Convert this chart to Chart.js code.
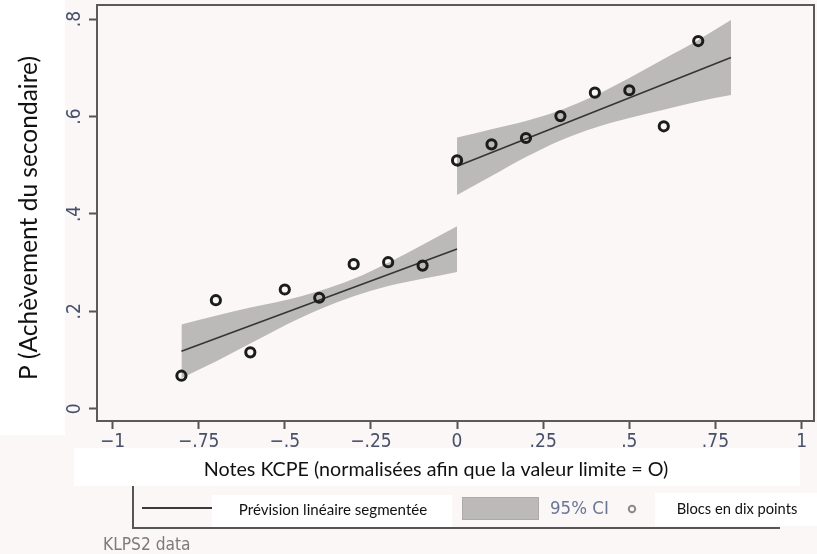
<!DOCTYPE html>
<html>
<head>
<meta charset="utf-8">
<script src="https://cdn.jsdelivr.net/npm/chart.js@4.4.1/dist/chart.umd.min.js"></script>
<style>
  html, body { margin: 0; padding: 0; background: #faf7f6; }
  canvas { display: block; }
</style>
</head>
<body>
<canvas id="c" width="817" height="554"></canvas>
<script>
// Ten-point bins of normalised KCPE scores and the share completing secondary school
const binX = [-0.8, -0.7, -0.6, -0.5, -0.4, -0.3, -0.2, -0.1, 0, 0.1, 0.2, 0.3, 0.4, 0.5, 0.6, 0.7];
const binY = [0.068, 0.223, 0.116, 0.245, 0.228, 0.297, 0.301, 0.294, 0.510, 0.543, 0.556, 0.601, 0.649, 0.654, 0.580, 0.755];

// Segmented linear prediction, below and above the cut-off
const fitLeftX = [-0.8, 0];
const fitLeftY = [0.118, 0.328];
const fitRightX = [0, 0.795];
const fitRightY = [0.498, 0.721];

// 95% confidence band around each segment
const bandLeftX = [-0.8, -0.7, -0.6, -0.5, -0.4, -0.3, -0.2, -0.1, 0];
const bandLeftUpper = [0.173, 0.191, 0.208, 0.223, 0.242, 0.267, 0.300, 0.337, 0.375];
const bandLeftLower = [0.063, 0.097, 0.134, 0.171, 0.204, 0.231, 0.252, 0.267, 0.281];
const bandRightX = [0, 0.1, 0.2, 0.3, 0.4, 0.5, 0.6, 0.7, 0.795];
const bandRightUpper = [0.557, 0.574, 0.591, 0.613, 0.643, 0.679, 0.718, 0.757, 0.798];
const bandRightLower = [0.439, 0.478, 0.517, 0.551, 0.577, 0.597, 0.614, 0.631, 0.644];

// Axis ticks
const xTickValues = [-1, -0.75, -0.5, -0.25, 0, 0.25, 0.5, 0.75, 1];
const xTickLabels = ['\u22121', '\u2212.75', '\u2212.5', '\u2212.25', '0', '.25', '.5', '.75', '1'];
const yTickValues = [0, 0.2, 0.4, 0.6, 0.8];
const yTickLabels = ['0', '.2', '.4', '.6', '.8'];

// Texts
const yTitle = 'P (Achèvement du secondaire)';
const xTitle = 'Notes KCPE (normalisées afin que la valeur limite = O)';
const legendLine = 'Prévision linéaire segmentée';
const legendBand = '95% CI';
const legendPoints = 'Blocs en dix points';
const sourceNote = 'KLPS2 data';

const BG = '#faf7f6';
const BAND = 'rgb(188,185,185)';
const NARROW = "'Liberation Sans Narrow', 'Arial Narrow', 'DejaVu Sans Condensed', sans-serif";
const SANS = "Lato, 'Open Sans', sans-serif";
const TICK_COLOR = '#46506a';

const pts = (xs, ys) => xs.map((x, i) => ({ x: x, y: ys[i] }));

const background = {
  id: 'background',
  beforeDraw(chart) {
    const ctx = chart.ctx;
    ctx.save();
    ctx.fillStyle = BG;
    ctx.fillRect(0, 0, chart.width, chart.height);
    ctx.restore();
  }
};

const frame = {
  id: 'frame',
  afterDatasetsDraw(chart) {
    const a = chart.chartArea;
    const ctx = chart.ctx;
    ctx.save();
    ctx.strokeStyle = '#5a5a5a';
    ctx.lineWidth = 2;
    ctx.strokeRect(a.left, a.top, a.right - a.left, a.bottom - a.top);
    ctx.restore();
  }
};

const annotations = {
  id: 'annotations',
  afterDraw(chart) {
    const ctx = chart.ctx;
    ctx.save();

    // y-axis title panel
    ctx.fillStyle = '#ffffff';
    ctx.fillRect(0, 0, 65, 435);
    ctx.save();
    ctx.translate(29, 218);
    ctx.rotate(-Math.PI / 2);
    ctx.fillStyle = '#111111';
    ctx.font = '24.5px ' + SANS;
    ctx.textAlign = 'center';
    ctx.textBaseline = 'middle';
    ctx.fillText(yTitle, 0, 0);
    ctx.restore();

    // x-axis title panel
    ctx.fillStyle = '#ffffff';
    ctx.fillRect(74, 448, 726, 38);
    ctx.fillStyle = '#111111';
    ctx.font = '19.7px ' + SANS;
    ctx.textAlign = 'center';
    ctx.textBaseline = 'middle';
    ctx.fillText(xTitle, 436, 470);

    // legend frame
    ctx.strokeStyle = '#555555';
    ctx.lineWidth = 2;
    ctx.beginPath();
    ctx.moveTo(133, 486);
    ctx.lineTo(133, 528);
    ctx.lineTo(780, 528);
    ctx.stroke();

    // line key
    ctx.strokeStyle = '#3a3a3a';
    ctx.lineWidth = 2;
    ctx.beginPath();
    ctx.moveTo(142, 508);
    ctx.lineTo(212, 508);
    ctx.stroke();

    ctx.fillStyle = '#ffffff';
    ctx.fillRect(212, 495, 240, 32);
    ctx.fillStyle = '#111111';
    ctx.font = '15.1px ' + SANS;
    ctx.textAlign = 'center';
    ctx.textBaseline = 'middle';
    ctx.fillText(legendLine, 333, 510);

    // band key
    ctx.fillStyle = BAND;
    ctx.fillRect(462, 497, 77, 23);
    ctx.strokeStyle = '#adaaaa';
    ctx.lineWidth = 1;
    ctx.strokeRect(462.5, 497.5, 76, 22);
    ctx.fillStyle = '#6a7694';
    ctx.font = '18.5px ' + NARROW;
    ctx.textAlign = 'left';
    ctx.fillText(legendBand, 550, 509);

    // points key
    ctx.strokeStyle = '#8a8a8a';
    ctx.lineWidth = 2;
    ctx.beginPath();
    ctx.arc(632, 509, 3.2, 0, Math.PI * 2);
    ctx.stroke();

    ctx.fillStyle = '#ffffff';
    ctx.fillRect(655, 493, 162, 33);
    ctx.fillStyle = '#111111';
    ctx.font = '14.7px ' + SANS;
    ctx.textAlign = 'center';
    ctx.fillText(legendPoints, 737, 509);

    // source note
    ctx.fillStyle = '#7f7a7a';
    ctx.font = '17.2px ' + NARROW;
    ctx.textAlign = 'left';
    ctx.fillText(sourceNote, 103, 546);

    ctx.restore();
  }
};

const bandStyle = {
  borderWidth: 0,
  pointRadius: 0,
  backgroundColor: BAND,
  cubicInterpolationMode: 'monotone'
};
const fitStyle = {
  borderColor: '#353535',
  borderWidth: 1.6,
  pointRadius: 0,
  fill: false
};

new Chart(document.getElementById('c'), {
  type: 'line',
  data: {
    datasets: [
      Object.assign({ data: pts(bandLeftX, bandLeftUpper), fill: '+1', order: 5 }, bandStyle),
      Object.assign({ data: pts(bandLeftX, bandLeftLower), fill: false, order: 5 }, bandStyle),
      Object.assign({ data: pts(bandRightX, bandRightUpper), fill: '+1', order: 5 }, bandStyle),
      Object.assign({ data: pts(bandRightX, bandRightLower), fill: false, order: 5 }, bandStyle),
      Object.assign({ data: pts(fitLeftX, fitLeftY), order: 3 }, fitStyle),
      Object.assign({ data: pts(fitRightX, fitRightY), order: 3 }, fitStyle),
      {
        data: pts(binX, binY),
        showLine: false,
        pointRadius: 4.6,
        pointBorderWidth: 3,
        pointBorderColor: '#1c1c1c',
        pointBackgroundColor: 'rgba(0,0,0,0)',
        order: 1
      }
    ]
  },
  options: {
    responsive: false,
    devicePixelRatio: 1,
    animation: false,
    events: [],
    layout: { autoPadding: false, padding: { top: 5, right: 3, left: 0, bottom: 0 } },
    plugins: { legend: { display: false }, tooltip: { enabled: false } },
    scales: {
      x: {
        type: 'linear',
        min: -1.045,
        max: 1.036,
        afterBuildTicks: s => { s.ticks = xTickValues.map(v => ({ value: v })); },
        afterFit: s => { s.height = 133; s.paddingLeft = 0; s.paddingRight = 0; },
        border: { display: false },
        grid: { drawOnChartArea: false, drawTicks: true, tickLength: 8, tickColor: '#555555', tickWidth: 2 },
        ticks: {
          autoSkip: false, maxRotation: 0, minRotation: 0, padding: 2,
          color: TICK_COLOR,
          font: { family: NARROW, size: 19 },
          callback: (v, i) => xTickLabels[i]
        }
      },
      y: {
        type: 'linear',
        min: -0.025,
        max: 0.829,
        afterBuildTicks: s => { s.ticks = yTickValues.map(v => ({ value: v })); },
        afterFit: s => { s.width = 97; s.paddingTop = 0; s.paddingBottom = 0; },
        border: { display: false },
        grid: { drawOnChartArea: false, drawTicks: true, tickLength: 8, tickColor: '#555555', tickWidth: 2 },
        ticks: {
          autoSkip: false, minRotation: 90, maxRotation: 90, crossAlign: 'center', padding: 6,
          color: TICK_COLOR,
          font: { family: NARROW, size: 19 },
          callback: (v, i) => yTickLabels[i]
        }
      }
    }
  },
  plugins: [background, frame, annotations]
});
</script>
</body>
</html>
